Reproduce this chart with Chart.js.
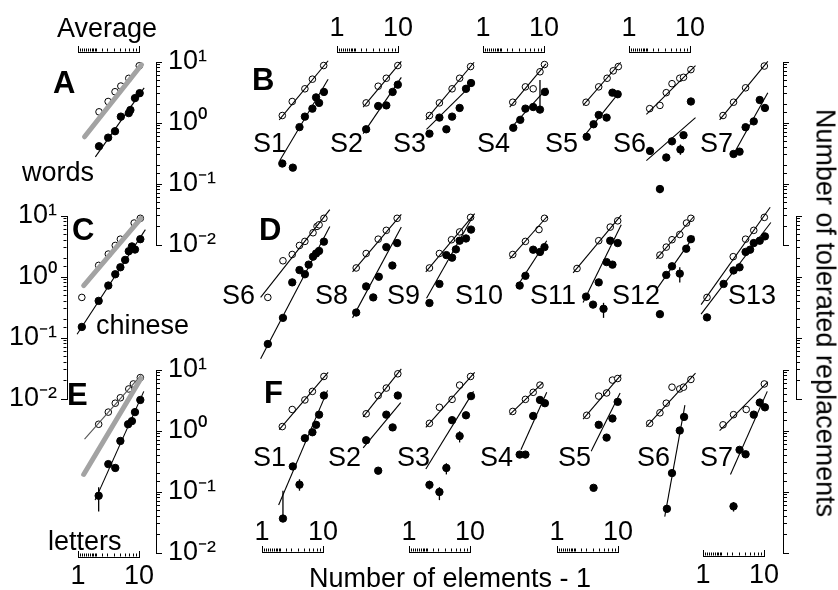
<!DOCTYPE html>
<html>
<head>
<meta charset="utf-8">
<script src="https://cdn.jsdelivr.net/npm/chart.js@4.4.1/dist/chart.umd.min.js"></script>
<style>
html,body{margin:0;padding:0;background:#fff;}
#fig{position:relative;width:838px;height:590px;overflow:hidden;font-family:'Liberation Sans',Arial,Helvetica,sans-serif;}
#fig canvas{position:absolute;}
.t{position:absolute;font-size:27px;line-height:1;white-space:nowrap;color:#000;}
.b{font-weight:bold;font-size:31px;}
</style>
</head>
<body>
<div id="fig"></div>
<script>
// ======================= DATA =======================
// average panels: [x = number of elements - 1, y = tolerated replacements]
const aOpen=[[2.05,1.63],[3.0,2.45],[4.0,3.6],[5.1,4.5],[7.1,6.1],[11,10]];
const aFilled=[[2.05,0.42],[3.0,0.59],[4.0,0.76],[5.1,1.35],[7.1,1.55],[7.6,1.75],[9.2,2.8],[11.2,3.4]];
const aOpenFit=[[1.12,0.66],[12.1,11.2]];
const aFilledFit=[[1.76,0.277],[13.5,4.2]];
const aGray=[[1.12,0.61],[12.1,10.4]];

const cOpen=[[1.0,0.47],[2.02,1.66],[3.02,2.59],[4.04,3.64],[5.0,4.66],[8.9,8.8],[11.5,10.6]];
const cFilled=[[1.0,0.147],[2.02,0.41],[3.02,0.75],[4.04,1.17],[5.0,1.54],[6.1,2.06],[7.1,2.9],[8.1,3.5],[9.2,3.1],[11.5,4.66]];
const cOpenFit=[[1.08,0.8],[11.8,11.4]];
const cFilledFit=[[0.82,0.11],[14.2,6.8]];
const cGray=[[1.08,0.75],[11.8,10.6]];

const eOpen=[[2.02,1.37],[3.02,2.21],[4.04,3.14],[5.0,3.89],[7.1,5.5],[8.6,6.7],[11.5,8.6]];
const eFilled=[[2.02,0.082],[3.02,0.285],[4.04,0.245],[5.0,0.71],[6.9,1.37],[8.1,1.55],[9.2,2.21],[11.5,3.57]];
const eOpenFit=[[1.12,0.76],[11.8,9.4]];
const eFilledFit=[[1.74,0.069],[13.3,5.0]];
const eGray=[[1.08,0.19],[11.8,8.3]];
const eErr=[[2.02,0.044,0.115]];

// words, single subjects
const bNames=['S1','S2','S3','S4','S5','S6','S7'];
const bOpen=[
  [[1.83,1.41],[2.77,2.45],[4.7,4.04],[6.43,5.9],[10.3,10.1]],
  [[2.88,2.32],[4.76,4.47],[6.68,6.12],[10.8,10.1]],
  [[1.92,1.41],[2.91,2.32],[4.94,4.04],[6.77,6.12],[10.7,9.7]],
  [[2.95,2.38],[5.01,4.36],[6.93,4.04],[9.2,7.9],[11.1,10.5]],
  [[2.99,2.38],[5.07,4.36],[7.2,6.12],[9.3,8.2],[11.5,9.7]],
  [[2.02,1.85],[3.1,2.1],[4.04,3.47],[5.13,4.94],[7.1,6.12],[8.3,6.35],[11.3,8.6]],
  [[2.05,1.41],[3.18,2.38],[5.26,4.2],[11.5,9.9]]
];
const bOpenFit=[
  [[1.61,1.19],[12.4,12.2]],[[2.54,1.97],[12.5,11.9]],[[1.65,1.19],[12.4,11.5]],
  [[2.6,1.97],[11.8,10.8]],[[2.64,2.1],[12.7,11.5]],[[1.76,1.48],[13.7,10.1]],[[1.78,1.19],[13.3,11.9]]
];
const bFilled=[
  [[1.83,0.213],[2.84,0.181],[3.75,0.893],[4.7,1.35],[6.43,1.85],[7.5,2.88],[8.5,2.32],[10.4,3.57]],
  [[2.88,0.82],[4.76,2.05],[6.68,2.1],[8.7,3.57],[10.8,4.76]],
  [[1.92,0.69],[2.91,1.3],[3.89,0.82],[4.94,1.35],[6.77,1.9],[8.83,4.04],[10.9,5.07]],
  [[3.02,0.87],[4.04,1.19],[5.01,1.85],[6.93,1.97],[9.2,1.78],[11.3,3.57]],
  [[3.07,0.61],[4.09,1.0],[5.07,1.44],[7.05,1.3],[9.0,3.47],[11.2,3.26]],
  [[2.05,0.35],[3.1,0.078],[4.04,0.27],[5.13,0.51],[7.3,0.37],[8.3,0.65],[11.3,2.45]],
  [[3.18,0.31],[4.09,0.34],[5.26,0.89],[7.4,1.12],[9.5,2.6],[11.8,1.9]]
];
const bFilledFit=[
  [[1.65,0.24],[12.4,5.9]],[[2.54,0.69],[12.5,6.35]],[[1.7,0.82],[12.4,5.2]],
  [[2.6,0.82],[12.5,4.2]],[[2.8,0.64],[10.1,2.88]],[[1.76,0.238],[13.7,1.3]],[[3.07,0.288],[13.3,3.47]]
];
const bErr=[[],[],[],[[9.2,1.7,5.7]],[],[[7.3,0.30,0.45],[3.1,0.066,0.09]],[]];

// chinese, single subjects
const dNames=['S6','S8','S9','S10','S11','S12','S13'];
const dOpen=[
  [[1.0,0.47],[1.88,1.99],[2.77,2.55],[3.75,3.64],[4.7,4.27],[6.6,6.0],[7.8,7.7],[8.5,8.2],[10.4,10.6]],
  [[1.9,1.5],[2.88,2.65],[4.76,4.66],[6.68,6.6],[10.5,10.6]],
  [[1.92,1.5],[2.91,2.65],[4.82,4.56],[6.77,6.2],[10.7,11.0]],
  [[2.95,2.55],[5.01,4.27],[8.83,6.8],[11.1,10.6]],
  [[2.05,1.47],[5.07,4.39],[8.2,7.5],[11.2,9.6]],
  [[3.1,2.49],[4.04,3.41],[5.13,4.56],[7.1,5.6],[9.4,8.8],[11.3,10.6]],
  [[1.05,0.47],[3.14,2.34],[5.26,4.66],[7.4,6.6],[11.5,11.0]]
];
const dOpenFit=[
  [[0.74,0.47],[13.3,14.9]],[[1.63,1.29],[12.5,12.4]],[[1.65,1.29],[12.7,12.8]],
  [[2.6,2.14],[12.5,11.5]],[[1.74,1.24],[13.0,12.0]],[[2.67,2.14],[12.9,11.5]],[[0.82,0.354],[14.7,16.4]]
];
const dFilled=[
  [[1.0,0.075],[1.88,0.21],[2.77,0.85],[3.75,1.38],[4.7,1.17],[5.5,1.71],[6.6,2.34],[7.5,2.65],[8.5,2.93],[10.4,4.23]],
  [[1.9,0.259],[2.88,0.725],[3.87,0.47],[4.88,1.06],[6.68,3.41],[8.6,1.65],[10.5,4.0]],
  [[1.92,0.377],[2.91,0.8],[3.89,2.49],[4.94,2.25],[5.8,3.12],[6.77,4.39],[8.83,4.79],[10.9,6.8]],
  [[3.94,0.75],[5.01,1.1],[6.93,3.08],[9.2,2.82],[11.1,3.41]],
  [[2.99,0.485],[4.0,0.354],[5.07,0.85],[6.2,0.3],[7.05,1.89],[9.0,1.71],[8.2,4.39],[11.2,4.0]],
  [[3.1,0.243],[4.04,1.14],[5.13,1.6],[7.1,1.2],[9.3,3.2],[11.3,4.66]],
  [[1.05,0.214],[2.1,0.8],[3.18,1.36],[4.09,1.54],[5.26,2.82],[6.35,3.08],[7.4,4.0],[9.5,4.39],[11.8,5.2]]
];
const dFilledFit=[
  [[0.74,0.042],[13.3,7.7]],[[1.63,0.21],[12.5,7.5]],[[1.7,0.456],[12.1,12.0]],
  [[3.43,0.69],[12.2,4.39]],[[2.64,0.386],[13.0,8.2]],[[2.67,0.64],[12.9,5.3]],[[0.82,0.243],[15.1,9.0]]
];
const dErr=[[],[],[],[],[[6.2,0.21,0.38]],[[7.1,0.85,1.54]],[]];

// letters, single subjects
const fNames=['S1','S2','S3','S4','S5','S6','S7'];
const fOpen=[
  [[1.83,1.25],[2.77,2.45],[4.7,3.57],[6.43,5.0],[10.4,9.0]],
  [[2.88,2.07],[4.76,4.25],[6.68,5.7],[10.8,10]],
  [[1.92,1.42],[2.91,2.67],[4.94,3.65],[6.77,6.4],[10.7,9.0]],
  [[2.95,2.27],[5.01,3.65],[6.93,4.82],[9.2,6.4]],
  [[3.07,1.95],[5.07,4.15],[7.05,4.7],[9.0,7.8],[11.2,8.3]],
  [[2.02,1.42],[3.1,2.15],[4.04,3.14],[5.13,5.9],[7.1,5.5],[8.3,5.9],[11.3,8.0]],
  [[2.05,1.34],[3.18,2.0],[5.4,2.45],[11.5,6.7]]
];
const fOpenFit=[
  [[1.61,1.11],[12.4,10.6]],[[2.54,1.83],[12.5,12.1]],[[1.65,1.21],[12.7,10.6]],
  [[2.6,2.0],[10.4,7.05]],[[2.64,1.68],[13.0,9.7]],[[1.76,1.25],[13.7,10.3]],[[1.78,1.07],[13.3,7.3]]
];
const fFilled=[
  [[1.88,0.0334],[2.84,0.26],[3.75,0.127],[4.7,0.79],[6.43,1.0],[7.5,1.34],[8.5,2.0],[10.4,4.25]],
  [[2.88,0.73],[4.76,0.22],[6.68,2.0],[8.7,1.21],[10.8,4.25]],
  [[1.92,0.126],[2.91,0.095],[3.89,0.245],[4.94,1.61],[6.77,0.86],[8.83,1.95],[10.9,4.15]],
  [[3.94,0.415],[5.01,0.415],[6.93,1.9],[9.2,3.57],[11.3,3.14]],
  [[4.09,0.112],[5.07,1.34],[7.05,0.81],[9.0,1.72],[11.2,3.31]],
  [[4.15,0.049],[5.13,0.2],[7.1,1.07],[8.5,1.83]],
  [[3.18,0.054],[4.09,0.5],[5.26,0.42],[7.4,2.0],[9.5,3.22],[11.8,2.67]]
];
const fFilledFit=[
  [[1.57,0.057],[12.1,5.2]],[[2.54,0.54],[12.2,3.22]],[[1.65,0.235],[12.1,5.0]],
  [[4.15,0.5],[12.2,4.82]],[[3.7,0.475],[12.4,4.7]],[[3.79,0.036],[8.8,2.9]],[[2.8,0.19],[13.0,5.0]]
];
const fErr=[[[1.88,0.0334,0.1],[3.75,0.10,0.157]],[],[[1.92,0.105,0.148],[2.91,0.069,0.115],[3.89,0.19,0.295],[6.77,0.67,1.04]],[],[],[],[[3.18,0.044,0.064]]];

// ======================= LAYOUT =======================
const FF="'Liberation Sans', Arial, Helvetica, sans-serif";
const D=61;                        // pixels per decade
const ROW_Y=[123,277,431];         // pixel of y=1 for each row
const AVG_X=78;                    // pixel of x=1 for average panels
const SUBJ_X=[264,337,410,483,556,629,702];
const fig=document.getElementById('fig');

Chart.defaults.font.family=FF;
Chart.defaults.color='#000';

const pts=a=>a.map(([x,y])=>({x,y}));
const isDec=v=>{const l=Math.log10(v);return Math.abs(l-Math.round(l))<1e-6;};
const SUP={'-':'\u207B','0':'\u2070','1':'\u00B9','2':'\u00B2','3':'\u00B3'};
const supLabel=v=>'10'+String(Math.round(Math.log10(v))).split('').map(c=>SUP[c]).join('');

function mkCanvas(left,top,w,h){
  const c=document.createElement('canvas');
  c.width=w;c.height=h;
  c.style.left=left+'px';c.style.top=top+'px';
  c.style.width=w+'px';c.style.height=h+'px';
  fig.appendChild(c);
  return c;
}
function txt(s,left,baseline,cls,extra){
  const d=document.createElement('div');
  d.className='t'+(cls?' '+cls:'');
  const fs=cls==='b'?31:27;
  d.style.left=left+'px';d.style.top=(baseline-0.847*fs)+'px';
  if(extra) Object.assign(d.style,extra);
  d.textContent=s;
  fig.appendChild(d);
  return d;
}
const base={responsive:false,animation:false,events:[],devicePixelRatio:1,
  plugins:{legend:{display:false},tooltip:{enabled:false}}};
const tickFont={family:FF,size:27,lineHeight:1};

// ======================= ERROR BARS =======================
function errPlugin(bars){
  return {id:'errbars',afterDatasetsDraw(chart){
    const {ctx,scales}=chart;
    ctx.save();ctx.strokeStyle='#000';ctx.lineWidth=1.3;
    bars.forEach(([x,lo,hi])=>{
      const px=scales.x.getPixelForValue(x);
      ctx.beginPath();
      ctx.moveTo(px,scales.y.getPixelForValue(lo));
      ctx.lineTo(px,scales.y.getPixelForValue(hi));
      ctx.stroke();
    });
    ctx.restore();
  }};
}

// ======================= PANELS =======================
function buildSets(open,filled,openFit,filledFit,gray,openFitColor){
  const ds=[];
  ds.push({data:pts(filledFit),showLine:true,pointRadius:0,borderColor:'#000',borderWidth:1.1});
  if(gray) ds.push({data:pts(gray),showLine:true,pointRadius:0,borderColor:'#a3a3a3',borderWidth:5,borderCapStyle:'round'});
  ds.push({data:pts(openFit),showLine:true,pointRadius:0,borderColor:openFitColor||'#000',borderWidth:1.1});
  ds.push({data:pts(open),pointRadius:3.3,pointBackgroundColor:'#fff',pointBorderColor:'#000',pointBorderWidth:1});
  ds.push({data:pts(filled),pointRadius:3.7,pointBackgroundColor:'#000',pointBorderColor:'#000',pointBorderWidth:1});
  ds.forEach(d=>{d.clip=false;});
  return ds;
}
function panel(ox,oy,datasets,bars){
  const PX0=30,PW=122,PY0=90,PH=240;
  const c=mkCanvas(ox-PX0,oy-PY0,PW,PH);
  new Chart(c,{type:'scatter',data:{datasets},
    options:Object.assign({},base,{layout:{padding:0},
      scales:{
        x:{type:'logarithmic',display:false,min:Math.pow(10,-PX0/D),max:Math.pow(10,(PW-PX0)/D)},
        y:{type:'logarithmic',display:false,min:Math.pow(10,-(PH-PY0)/D),max:Math.pow(10,PY0/D)}
      }}),
    plugins:[errPlugin(bars||[])]});
}

// ======================= AXES =======================
function yAxis(lineX,oy,side,labels){
  const W=70,padT=20,padB=20,tl=6;
  const left=side==='right'?lineX-2:lineX-W;
  const c=mkCanvas(left,oy-D-padT,W+2,3*D+padT+padB);
  new Chart(c,{type:'scatter',data:{datasets:[]},
    options:Object.assign({},base,{layout:{padding:{top:padT,bottom:padB,left:0,right:0}},
      scales:{
        x:{display:false},
        y:{type:'logarithmic',position:side,min:0.01,max:10,
          afterFit:s=>{s.width=W;},
          border:{display:true,color:'#000',width:1},
          grid:{drawOnChartArea:false,drawTicks:true,tickLength:tl,tickColor:'#000',tickWidth:1,
            tickBorderDash:ctx=>isDec(ctx.tick.value)?[]:(side==='right'?[3,40]:[0,tl-3.5,3,40])},
          ticks:{autoSkip:false,padding:side==='right'?6:4,color:'#000',font:tickFont,
            callback:v=>labels&&isDec(v)?supLabel(v):''}
        }
      }})});
}
// scale bar with ticks pointing up; labels above it (or none)
function xAxis(ox,lineY,showLabels,pad){
  const H=50,padL=24,tl=6;
  const c=mkCanvas(ox-padL,lineY-H,D+2*padL,H+4);
  new Chart(c,{type:'scatter',data:{datasets:[]},
    options:Object.assign({},base,{layout:{padding:{left:padL,right:padL,top:0,bottom:0}},
      scales:{
        y:{display:false},
        x:{type:'logarithmic',position:'top',min:1,max:10,
          afterFit:s=>{s.height=H;},
          border:{display:true,color:'#000',width:1},
          grid:{drawOnChartArea:false,drawTicks:true,tickLength:tl,tickColor:'#000',tickWidth:1,
            tickBorderDash:ctx=>isDec(ctx.tick.value)?[]:[0,tl-3.5,3,40]},
          ticks:{autoSkip:false,maxRotation:0,minRotation:0,padding:pad||0,color:'#000',font:tickFont,
            callback:v=>showLabels&&isDec(v)?String(v):''}
        }
      }})});
}
// tick labels only, placed below a scale bar
function xLabelsBelow(ox,lineY,pad){
  const H=50,padL=24;
  const c=mkCanvas(ox-padL,lineY-2,D+2*padL,H+2);
  new Chart(c,{type:'scatter',data:{datasets:[]},
    options:Object.assign({},base,{layout:{padding:{left:padL,right:padL,top:0,bottom:0}},
      scales:{
        y:{display:false},
        x:{type:'logarithmic',position:'bottom',min:1,max:10,
          afterFit:s=>{s.height=H;},
          border:{display:false},
          grid:{display:false,drawTicks:false},
          ticks:{autoSkip:false,maxRotation:0,minRotation:0,padding:pad,color:'#000',font:tickFont,
            callback:v=>isDec(v)?String(v):''}
        }
      }})});
}

// ======================= BUILD FIGURE =======================
panel(AVG_X,ROW_Y[0],buildSets(aOpen,aFilled,aOpenFit,aFilledFit,aGray));
panel(AVG_X,ROW_Y[1],buildSets(cOpen,cFilled,cOpenFit,cFilledFit,cGray));
panel(AVG_X,ROW_Y[2],buildSets(eOpen,eFilled,eOpenFit,eFilledFit,eGray,'#555'),eErr);
for(let k=0;k<7;k++){
  panel(SUBJ_X[k],ROW_Y[0],buildSets(bOpen[k],bFilled[k],bOpenFit[k],bFilledFit[k]),bErr[k]);
  panel(SUBJ_X[k],ROW_Y[1],buildSets(dOpen[k],dFilled[k],dOpenFit[k],dFilledFit[k]),dErr[k]);
  panel(SUBJ_X[k],ROW_Y[2],buildSets(fOpen[k],fFilled[k],fOpenFit[k],fFilledFit[k]),fErr[k]);
}

yAxis(156,ROW_Y[0],'right',true);
yAxis(67,ROW_Y[1],'left',true);
yAxis(156,ROW_Y[2],'right',true);
yAxis(783,ROW_Y[0],'right',false);
yAxis(796,ROW_Y[1],'right',false);
yAxis(783,ROW_Y[2],'right',false);

xAxis(78,52,false);
xAxis(337,52,true,4);
xAxis(483,52,true,4);
xAxis(629,52,true,4);
xAxis(262,552,true,0);
xAxis(409,552,true,0);
xAxis(557,552,true,0);
xAxis(78,557,false);
xLabelsBelow(78,557,6);
xAxis(703,556,false);
xLabelsBelow(703,556,6);

// text labels
txt('Average',57,38);
txt('A',53,93,'b');
txt('words',22,182);
txt('B',252,90,'b');
txt('C',72,240,'b');
txt('chinese',96,335);
txt('D',259,240,'b');
txt('E',67,405,'b');
txt('letters',48,551);
txt('F',264,403,'b');
txt('Number of elements - 1',309,588);
[253,330,393,477,545,613,700].forEach((x,k)=>txt(bNames[k],x,153));
[222,315,387,455,530,612,728].forEach((x,k)=>txt(dNames[k],x,305));
[253,328,397,480,558,637,700].forEach((x,k)=>txt(fNames[k],x,467));
txt('Number of tolerated replacements',825,313,'',{transform:'translate(-50%,-50%) rotate(90deg)',top:'313px'});
</script>
</body>
</html>
